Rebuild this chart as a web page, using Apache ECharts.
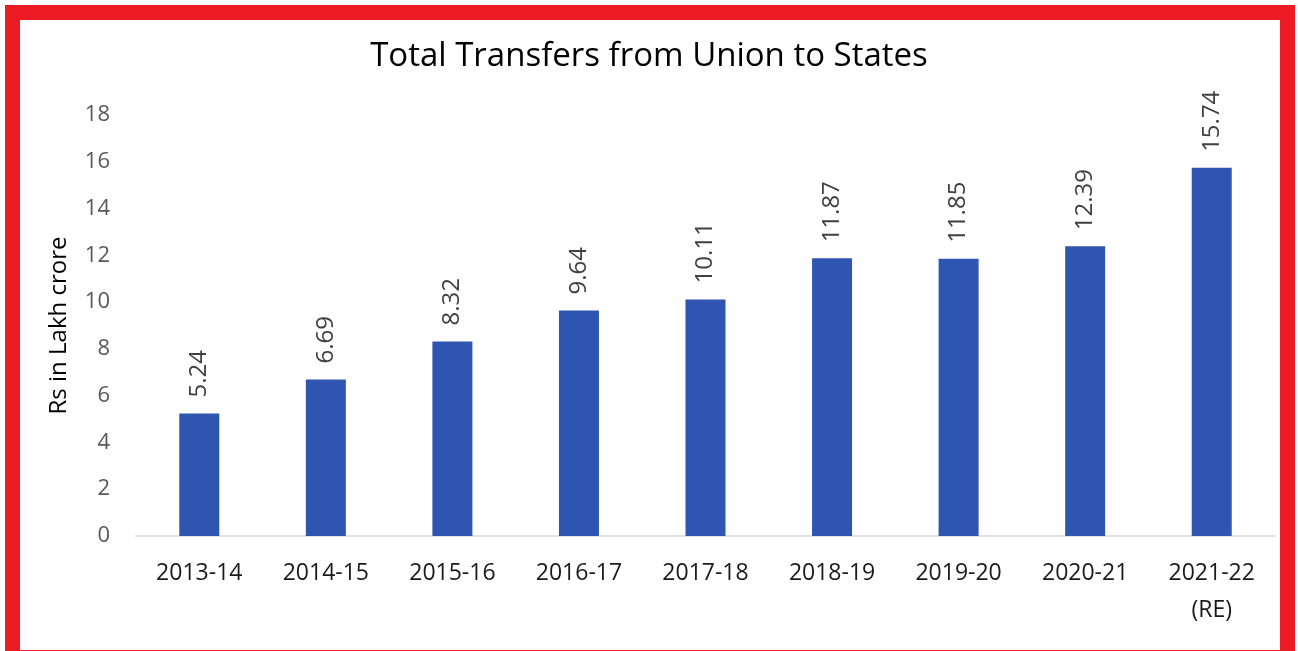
<!DOCTYPE html>
<html>
<head>
<meta charset="utf-8">
<script src="https://cdn.jsdelivr.net/npm/echarts@6/dist/echarts.min.js"></script>
<style>
  html, body { margin: 0; padding: 0; background: #fff; overflow: hidden; }
  #frame { position: absolute; left: 5px; top: 5px; width: 1290px; height: 660px;
           border: 15px solid #ED1C24; box-sizing: border-box; }
  #main { position: absolute; left: 0; top: 0; width: 1298px; height: 651px; }
</style>
</head>
<body>
<div id="frame"></div>
<div id="main"></div>
<script>
// 年度 / 数值 (Rs lakh crore)
var years = ['2013-14', '2014-15', '2015-16', '2016-17', '2017-18', '2018-19', '2019-20', '2020-21', '2021-22\n(RE)'];
var transfers = [5.24, 6.69, 8.32, 9.64, 10.11, 11.87, 11.85, 12.39, 15.74];
var yTicks = [0, 18, 2]; // min, max, step

var chart = echarts.init(document.getElementById('main'));

var option = {
  animation: false,
  title: {
    text: 'Total Transfers from Union to States',
    left: 'center',
    top: 35,
    textStyle: {
      fontFamily: 'Open Sans',
      fontSize: 33,
      fontWeight: 'normal',
      color: '#000'
    }
  },
  grid: {
    left: 136,
    right: 23,
    top: 115,
    bottom: 115
  },
  xAxis: {
    type: 'category',
    data: years,
    axisLine: {
      lineStyle: { color: '#D9D9D9', width: 1.5 }
    },
    axisTick: { show: false },
    axisLabel: {
      color: '#1a1a1a',
      fontFamily: 'Open Sans',
      fontSize: 23,
      margin: 19,
      lineHeight: 37
    }
  },
  yAxis: {
    type: 'value',
    min: yTicks[0],
    max: yTicks[1],
    interval: yTicks[2],
    name: 'Rs in Lakh crore',
    nameLocation: 'middle',
    nameGap: 65,
    nameTextStyle: {
      color: '#000',
      fontFamily: 'Open Sans',
      fontSize: 24
    },
    splitLine: { show: false },
    axisLine: { show: false },
    axisTick: { show: false },
    axisLabel: {
      color: '#595959',
      fontFamily: 'Open Sans',
      fontSize: 22,
      margin: 26
    }
  },
  series: [
    {
      type: 'bar',
      data: transfers,
      barWidth: 40,
      itemStyle: {
        color: '#2E56B0'
      },
      label: {
        show: true,
        position: 'top',
        rotate: 90,
        align: 'left',
        verticalAlign: 'middle',
        distance: 16,
        color: '#404040',
        fontFamily: 'Open Sans',
        fontSize: 24,
        formatter: function (p) {
          return p.value.toFixed(2);
        }
      }
    }
  ]
};

chart.setOption(option);
</script>
</body>
</html>
